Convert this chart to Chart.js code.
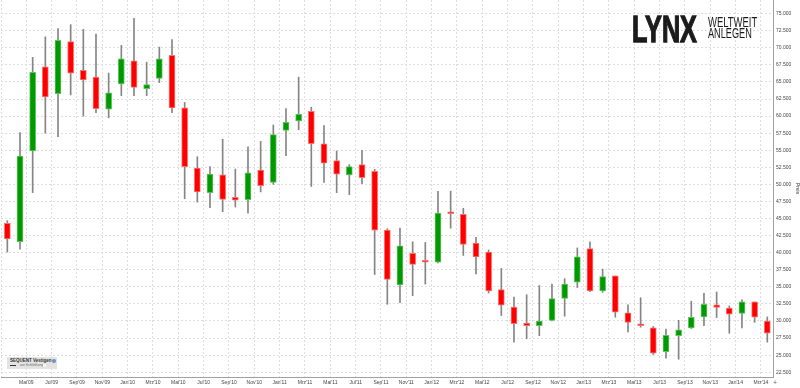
<!DOCTYPE html>
<html>
<head>
<meta charset="utf-8">
<script src="https://cdn.jsdelivr.net/npm/chart.js@4.4.0/dist/chart.umd.min.js"></script>
<style>
  html, body { margin: 0; padding: 0; background: #fff; }
  #wrap { position: relative; width: 800px; height: 388px; overflow: hidden; font-family: 'Liberation Sans', Arial, sans-serif; }
  #chart { position: absolute; left: 0; top: 0; }
  .logo { position: absolute; color: #1b1b1b; white-space: nowrap; transform-origin: 0 0; line-height: 1; }
  #legend { position: absolute; left: 7px; top: 357px; width: 50px; height: 12px; background: #e3e3e3; }
  #legend span { position: absolute; white-space: nowrap; line-height: 1; }
</style>
</head>
<body>
<div id="wrap">
  <canvas id="chart" width="800" height="388"></canvas>
  <div class="logo" style="left:631.5px; top:12px; font-size:36px; font-weight:bold; transform:scaleX(0.70); -webkit-text-stroke:1.3px #1b1b1b;">LYNX</div>
  <div class="logo" style="left:708px; top:14.8px; font-size:14.7px; transform:scaleX(0.645);">WELTWEIT</div>
  <div class="logo" style="left:708px; top:26.4px; font-size:14.7px; transform:scaleX(0.625);">ANLEGEN</div>
  <div id="legend">
    <span style="left:3px; top:1.5px; font-size:4.5px; font-weight:bold; color:#333;">SEQUENT Vestigen</span>
    <span style="left:45px; top:1.5px; width:4px; height:4px; border-radius:2px; background:#6d8fc4;"></span>
    <span style="left:3px; top:8px; width:6px; height:0; border-top:1px dashed #333;"></span>
    <span style="left:13px; top:6.5px; font-size:3.5px; color:#666;">vor Schließung</span>
    <span style="left:36px; top:6.5px; width:3px; height:3px; background:#f4f4f4;"></span>
  </div>
  <div class="logo" style="left:773px; top:379px; font-size:7px; color:#666;">+</div>
</div>
<script>
// Monthly candles, Mrz'09 .. Mrz'14
const months = ["Mrz'09","Apr'09","Mai'09","Jun'09","Jul'09","Aug'09","Sep'09","Okt'09","Nov'09","Dez'09",
  "Jan'10","Feb'10","Mrz'10","Apr'10","Mai'10","Jun'10","Jul'10","Aug'10","Sep'10","Okt'10","Nov'10","Dez'10",
  "Jan'11","Feb'11","Mrz'11","Apr'11","Mai'11","Jun'11","Jul'11","Aug'11","Sep'11","Okt'11","Nov'11","Dez'11",
  "Jan'12","Feb'12","Mrz'12","Apr'12","Mai'12","Jun'12","Jul'12","Aug'12","Sep'12","Okt'12","Nov'12","Dez'12",
  "Jan'13","Feb'13","Mrz'13","Apr'13","Mai'13","Jun'13","Jul'13","Aug'13","Sep'13","Okt'13","Nov'13","Dez'13",
  "Jan'14","Feb'14","Mrz'14"];

const opens = [44.3, 41.6, 54.9, 67.2, 63.3, 70.9, 66.7, 65.7, 61.0, 64.7,
  68.1, 64.0, 65.5, 68.9, 61.2, 52.4, 48.8, 51.4, 48.1, 47.75, 52.1, 50.3,
  57.9, 59.3, 60.7, 55.95, 53.5, 51.4, 52.9, 51.9, 43.3, 35.3, 39.9, 38.8,
  38.6, 45.9, 45.6, 41.4, 40.1, 34.6, 32.05, 29.7, 29.3, 30.1, 33.3, 35.7,
  40.6, 34.4, 36.6, 31.2, 29.6, 29.0, 25.5, 27.85, 29.0, 30.6, 32.35, 31.9,
  31.1, 32.8, 30.0];
const highs = [44.7, 57.6, 68.6, 71.6, 72.8, 73.4, 72.7, 72.0, 66.3, 70.35,
  74.3, 67.9, 70.1, 71.2, 62.0, 54.05, 52.6, 56.6, 52.25, 55.5, 56.3, 58.7,
  61.1, 65.7, 61.3, 58.6, 54.9, 52.9, 55.0, 52.2, 43.5, 43.6, 41.6, 41.5,
  49.0, 49.0, 46.5, 42.25, 40.4, 37.7, 33.5, 33.85, 35.2, 35.4, 36.2, 40.7,
  41.6, 37.6, 36.6, 32.35, 33.4, 29.2, 28.8, 30.1, 32.9, 34.05, 34.25, 32.2,
  33.1, 32.8, 30.6];
const lows = [40.1, 40.5, 48.8, 57.5, 57.0, 63.1, 60.0, 60.5, 59.75, 63.0,
  63.0, 63.0, 64.9, 60.5, 47.9, 47.4, 46.6, 46.0, 46.7, 45.8, 48.9, 50.0,
  54.2, 58.0, 49.7, 50.3, 48.8, 48.5, 50.1, 36.8, 32.45, 32.7, 33.7, 35.4,
  38.5, 43.6, 39.6, 36.9, 34.1, 30.8, 26.9, 27.4, 27.85, 30.0, 30.7, 34.9,
  34.3, 34.2, 30.55, 28.4, 29.1, 25.1, 24.55, 24.4, 28.9, 29.3, 30.5, 28.2,
  29.0, 29.8, 26.9];
const closes = [42.0, 54.15, 66.4, 62.8, 71.1, 66.3, 65.3, 61.1, 63.4, 68.4,
  64.2, 64.6, 68.4, 61.2, 52.6, 48.9, 51.5, 47.8, 47.7, 51.7, 49.8, 57.3,
  59.1, 60.25, 55.95, 53.1, 51.5, 52.6, 51.0, 43.3, 36.1, 41.0, 38.3, 38.6,
  45.8, 45.7, 41.2, 39.4, 34.4, 32.3, 29.6, 29.3, 30.0, 33.3, 35.4, 39.4,
  34.4, 36.5, 31.3, 29.8, 29.3, 25.3, 27.9, 28.7, 30.55, 32.45, 32.0, 31.0,
  32.8, 30.55, 28.2];

// axis ticks
const yTicks = [22.5, 25, 27.5, 30, 32.5, 35, 37.5, 40, 42.5, 45, 47.5, 50,
  52.5, 55, 57.5, 60, 62.5, 65, 67.5, 70, 72.5, 75];
const xTickMonths = months.map((m, i) => i).filter(i => i % 2 === 0); // gridline at start of every 2nd month

const up = (i) => closes[i] >= opens[i];
const bodies = opens.map((o, i) => ({ x: i, y: [o, closes[i]] }));
const wicks = lows.map((l, i) => ({ x: i, y: [l, highs[i]] }));

Chart.defaults.font.family = "'Liberation Sans', Arial, sans-serif";

const gridColor = '#dddddd';

new Chart(document.getElementById('chart').getContext('2d'), {
  type: 'bar',
  data: {
    datasets: [
      {
        data: bodies,
        backgroundColor: bodies.map((b, i) => up(i) ? '#009900' : '#ff0000'),
        borderColor: bodies.map((b, i) => up(i) ? '#5fc45f' : '#ff7070'),
        borderWidth: 1,
        borderSkipped: false,
        barThickness: 6,
        minBarLength: 2,
        grouped: false
      },
      {
        data: wicks,
        backgroundColor: '#858585',
        barThickness: 1,
        grouped: false
      }
    ]
  },
  options: {
    responsive: false,
    animation: false,
    layout: { padding: { left: 1, top: 0, right: 0, bottom: 0 } },
    plugins: { legend: { display: false }, tooltip: { enabled: false } },
    scales: {
      x: {
        type: 'linear',
        min: -0.5,
        max: 60.45,
        offset: false,
        grid: { color: gridColor, offset: false, drawTicks: false },
        border: { dash: [2, 2], color: '#a0a0a0' },
        afterBuildTicks: s => { s.ticks = xTickMonths.map(i => ({ value: i - 0.5 })); },
        ticks: {
          padding: 3,
          autoSkip: false,
          maxRotation: 0,
          font: { size: 5 },
          color: '#444',
          callback: (v) => {
            const i = Math.round(v + 0.5);
            return i === 0 ? '' : months[i];
          }
        },
        afterFit: s => { s.height = 11; s.paddingLeft = 0; s.paddingRight = 0; }
      },
      y: {
        position: 'right',
        min: 21.8,
        max: 77,
        grid: { color: gridColor, drawTicks: false },
        border: { dash: [2, 2], color: '#a0a0a0' },
        afterBuildTicks: s => { s.ticks = yTicks.map(v => ({ value: v })); },
        ticks: {
          padding: 3,
          font: { size: 5 },
          color: '#444',
          callback: v => v.toFixed(3)
        },
        title: { display: true, text: 'Preis', font: { size: 5 }, color: '#444', padding: { top: 0, bottom: 1 } },
        afterFit: s => { s.width = 27; s.paddingTop = 0; s.paddingBottom = 0; }
      }
    }
  }
});
</script>
</body>
</html>
